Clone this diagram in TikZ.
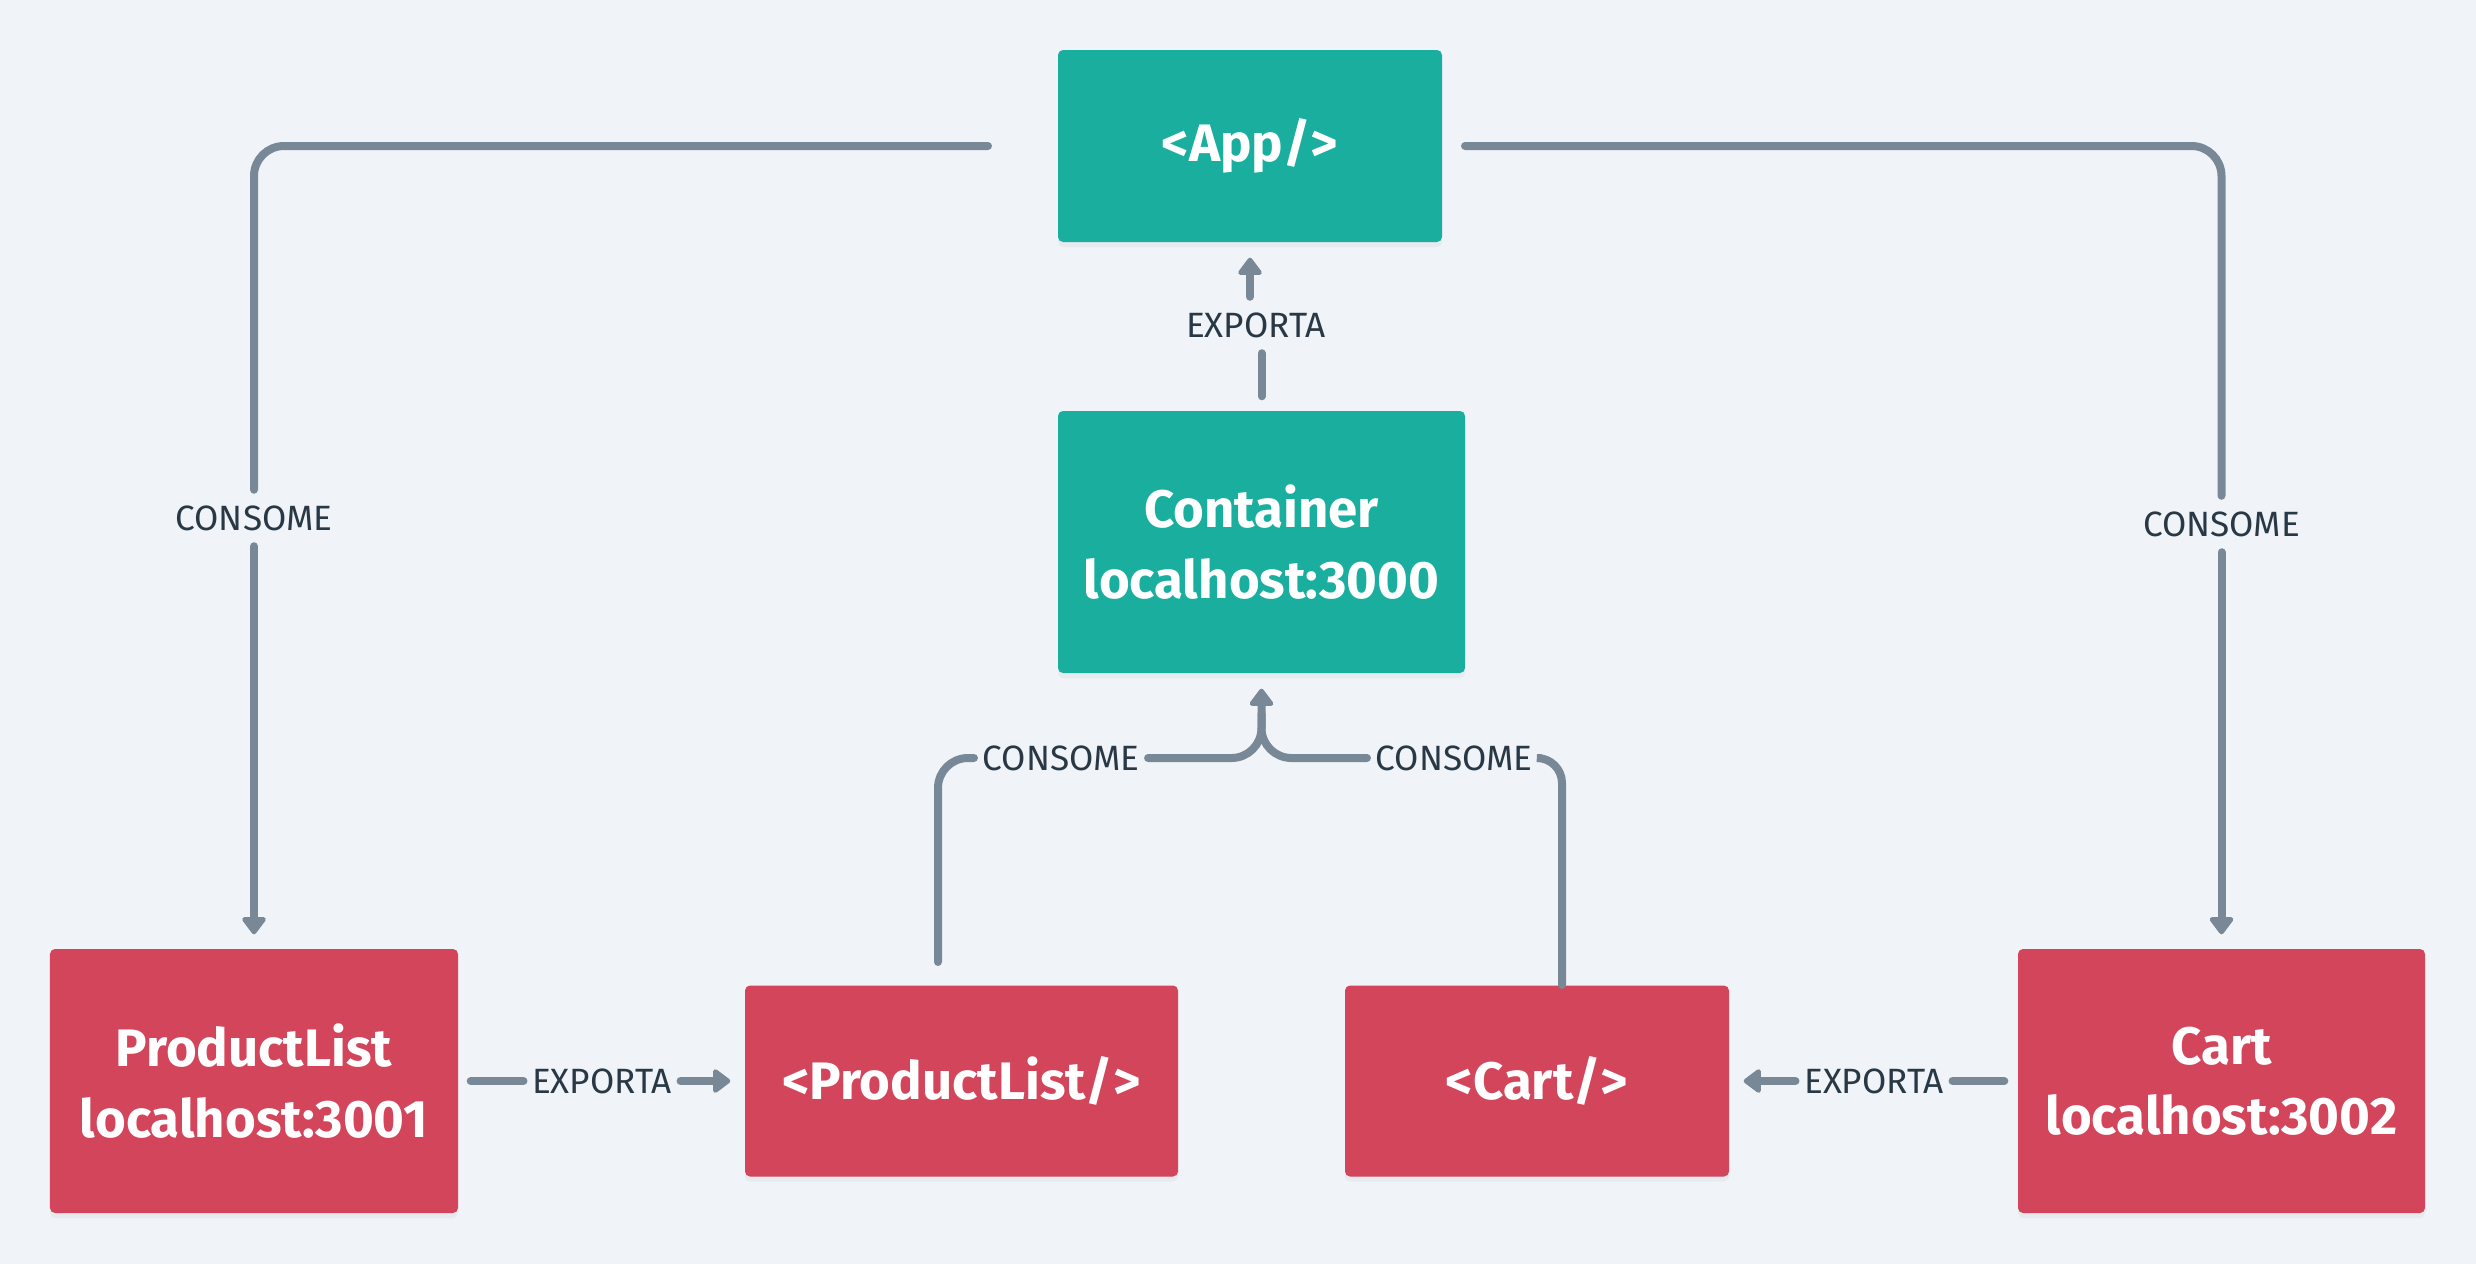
\documentclass[tikz,border=0pt]{standalone}
\usepackage{fontspec}
\setmainfont{Fira Sans}
\usetikzlibrary{arrows.meta,shadows}

\definecolor{bgcol}{HTML}{F0F4F8}
\definecolor{tealbox}{HTML}{1AAE9F}
\definecolor{redbox}{HTML}{D3455B}
\definecolor{linecol}{HTML}{788896}
\definecolor{labelcol}{HTML}{293845}

\begin{document}
\begin{tikzpicture}[
    box/.style={rounded corners=0.05cm, text=white, align=center, inner sep=0pt,
        font=\fontsize{15}{20}\selectfont\bfseries,
        drop shadow={opacity=0.08, shadow xshift=0cm, shadow yshift=-0.05cm}},
    hostbox/.style={box, fill=tealbox},
    remotebox/.style={box, fill=redbox},
    conn/.style={draw=linecol, line width=0.08cm, line cap=round, rounded corners=0.3cm},
    tip/.style={-{Triangle[width=0.27cm,length=0.19cm,round]}},
    lbl/.style={text=labelcol, font=\fontsize{10}{12}\selectfont, inner xsep=0.08cm, inner ysep=0.15cm}
]
    \fill[bgcol] (0,0) rectangle (24.76,-12.64);
    \useasboundingbox (0,0) rectangle (24.76,-12.64);

    \node[hostbox, minimum width=3.84cm, minimum height=1.92cm] (app) at (12.50,-1.46) {<App/>};
    \node[hostbox, minimum width=4.07cm, minimum height=2.62cm] (cont) at (12.615,-5.42) {Container\\localhost:3000};
    \node[remotebox, minimum width=4.08cm, minimum height=2.64cm] (pl) at (2.54,-10.81) {ProductList\\localhost:3001};
    \node[remotebox, minimum width=4.33cm, minimum height=1.91cm] (plc) at (9.615,-10.81) {<ProductList/>};
    \node[remotebox, minimum width=3.84cm, minimum height=1.91cm] (cartc) at (15.37,-10.81) {<Cart/>};
    \node[remotebox, minimum width=4.07cm, minimum height=2.64cm] (cart) at (22.215,-10.81) {Cart\\localhost:3002};

    \node[lbl] (cl1) at (2.54,-5.18) {CONSOME};
    \node[lbl] (cr1) at (22.215,-5.24) {CONSOME};
    \node[lbl] (ex1) at (12.56,-3.25) {EXPORTA};
    \node[lbl] (ex2) at (6.02,-10.81) {EXPORTA};
    \node[lbl] (ex3) at (18.74,-10.81) {EXPORTA};
    \node[lbl] (cl2) at (10.61,-7.58) {CONSOME};
    \node[lbl] (cr2) at (14.54,-7.58) {CONSOME};

    \coordinate (appL) at (9.88,-1.46);
    \coordinate (appR) at (14.65,-1.46);
    \coordinate (pltop) at (9.38,-9.62);
    \coordinate (carttop) at (15.62,-9.85);

    \draw[conn] (appL) -| (cl1.north); % app to productlist
    \draw[conn,tip,shorten >=0.14cm] (cl1.south) -- (pl.north);
    \draw[conn] (appR) -| (cr1.north); % app to cart
    \draw[conn,tip,shorten >=0.14cm] (cr1.south) -- (cart.north);

    \draw[conn] ([yshift=0.14cm]cont.north) -- (ex1.south -| cont.north); % container exports
    \draw[conn,tip,shorten >=0.15cm] (ex1.north -| app.south) -- (app.south);

    \draw[conn] ([xshift=0.12cm]pl.east) -- (ex2.west); % productlist exports
    \draw[conn,tip,shorten >=0.14cm] (ex2.east) -- (plc.west);
    \draw[conn] ([xshift=-0.13cm]cart.west) -- (ex3.east); % cart exports
    \draw[conn,tip,shorten >=0.14cm] (ex3.west) -- (cartc.east);

    \draw[conn] (pltop) |- (cl2.west); % container consumes
    \draw[conn,tip,shorten >=0.15cm] (cl2.east) -| (cont.south);
    \draw[conn,rounded corners=0.25cm] (carttop) |- (cr2.east);
    \draw[conn,shorten >=0.4cm] (cr2.west) -| (cont.south);
\end{tikzpicture}
\end{document}
